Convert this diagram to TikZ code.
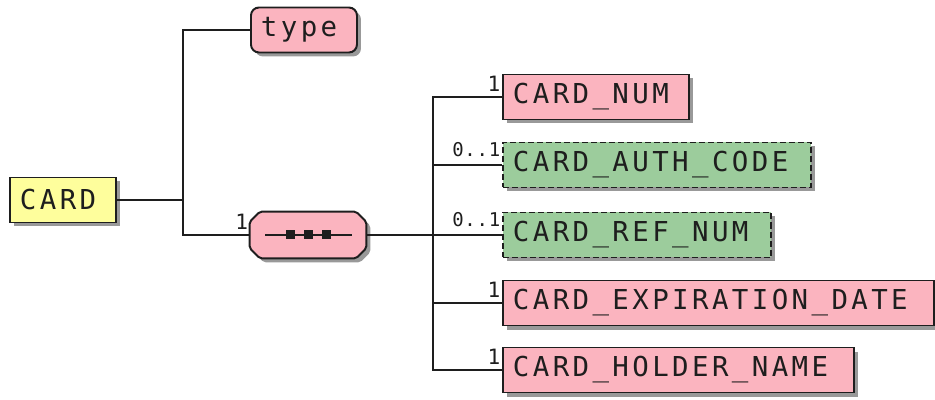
\documentclass[tikz,border=0pt]{standalone}
\usepackage{fontspec}
\newfontfamily\xsdfont{DejaVu Sans Mono}[LetterSpace=12.4]
\newfontfamily\xsdsmall{DejaVu Sans Mono}[LetterSpace=4]
\usetikzlibrary{positioning,shadows}
\definecolor{elpink}{HTML}{FBB4BF}
\definecolor{elgreen}{HTML}{9CCC9C}
\definecolor{elyellow}{HTML}{FEFE9C}
\definecolor{inkline}{HTML}{1E1E1E}
\newdimen\pxu \pxu=0.025cm
\tikzset{boxshadow/.style={drop shadow={shadow xshift=4\pxu,shadow yshift=-4\pxu,fill=black!40,opacity=1}},elbox/.style={draw=inkline,line width=1.4pt,fill=elpink,font=\xsdfont\fontsize{19.5}{20}\selectfont,text=inkline,anchor=west,align=left,inner xsep=10\pxu,inner ysep=0pt,minimum height=45\pxu,boxshadow},optbox/.style={elbox,fill=elgreen,dash pattern=on 6\pxu off 3\pxu},rootbox/.style={elbox,fill=elyellow},attrbox/.style={elbox,rounded corners=8\pxu},seqbox/.style={rectangle,minimum width=116\pxu,minimum height=46\pxu,inner sep=0pt},seqline/.style={draw=inkline,line width=1.4pt,fill=elpink,rounded corners=2\pxu,boxshadow},link/.style={draw=inkline,line width=1.05pt},mult/.style={anchor=south east,font=\xsdsmall\fontsize{13.5}{14}\selectfont,text=inkline,inner sep=1pt},one/.style={mult,font=\fontspec{DejaVu Sans Mono}\fontsize{15}{15}\selectfont}}

\begin{document}
\begin{tikzpicture}[x=\pxu,y=-\pxu]
\useasboundingbox (0,0) rectangle (935,400);
\node[rootbox,text width=86\pxu] (card) at (9,200) {CARD};
\node[attrbox,text width=86\pxu] (type) at (250,30) {type};
\node[seqbox] (seq) at (308,235) {};
\path[seqline] ([xshift=10\pxu]seq.north west)--([xshift=-10\pxu]seq.north east)--([yshift=-10\pxu]seq.north east)--([yshift=10\pxu]seq.south east)--([xshift=-10\pxu]seq.south east)--([xshift=10\pxu]seq.south west)--([yshift=10\pxu]seq.south west)--([yshift=-10\pxu]seq.north west)--cycle;
\draw[inkline,line width=1.05pt] ([xshift=-43\pxu]seq.center)--([xshift=44\pxu]seq.center);
\foreach \dx in {-18,0,18} \fill[inkline] ([xshift=\dx\pxu]seq.center) +(-4.5\pxu,-4.5\pxu) rectangle +(4.5\pxu,4.5\pxu);
\node[elbox,text width=166\pxu] (num) at (502,97) {CARD\_NUM};
\node[optbox,text width=288\pxu] (auth) at (502,165) {CARD\_AUTH\_CODE};
\node[optbox,text width=248\pxu] (ref) at (502,235) {CARD\_REF\_NUM};
\node[elbox,text width=411\pxu] (exp) at (502,303) {CARD\_EXPIRATION\_DATE};
\node[elbox,text width=331\pxu] (holder) at (502,370) {CARD\_HOLDER\_NAME};
% joints
\coordinate (j1) at (183,200);
\coordinate (j2) at (433,235);
\draw[link] (card.east)--(j1) (j1)|-(type.west) (j1)|-(seq.west);
\draw[link] (seq.east)--(j2);
\foreach \n in {num,auth,ref,exp,holder} \draw[link] (j2)|-(\n.west);
% multiplicities
\node[one] at ([yshift=4\pxu]seq.west) {1};
\node[one] at ([yshift=4\pxu]num.west) {1};
\node[mult] at ([yshift=7\pxu]auth.west) {0..1};
\node[mult] at ([yshift=7\pxu]ref.west) {0..1};
\node[one] at ([yshift=4\pxu]exp.west) {1};
\node[one] at ([yshift=4\pxu]holder.west) {1};
\end{tikzpicture}
\end{document}
